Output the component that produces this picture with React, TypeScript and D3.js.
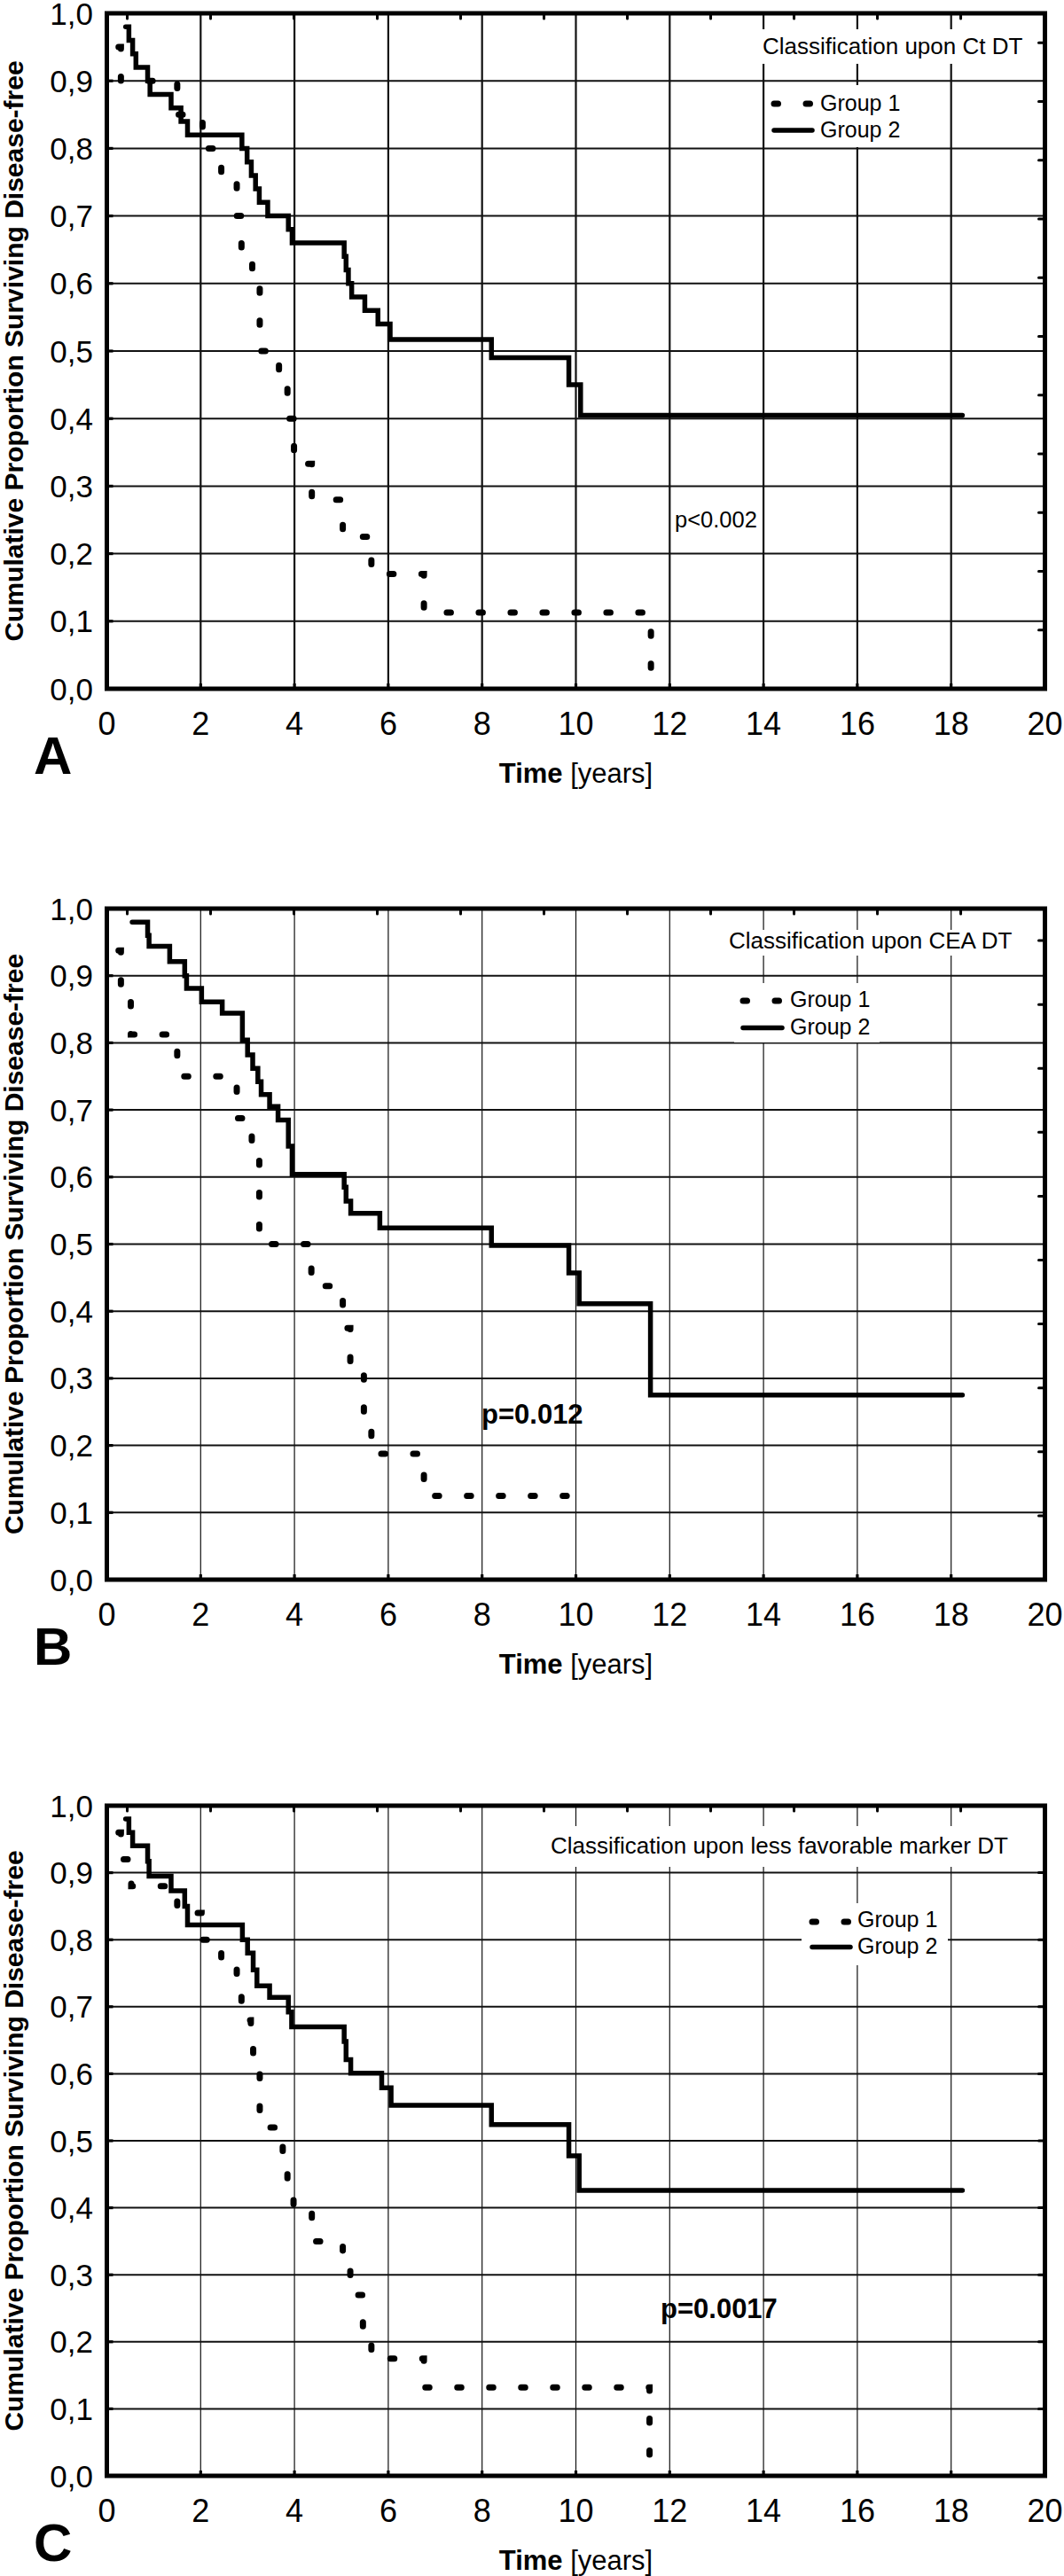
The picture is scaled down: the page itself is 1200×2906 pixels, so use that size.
import React from "react";
import * as d3 from "d3";

// ---------- data ----------
const X_TICKS = [0, 2, 4, 6, 8, 10, 12, 14, 16, 18, 20];
const Y_TICKS = [0, 0.1, 0.2, 0.3, 0.4, 0.5, 0.6, 0.7, 0.8, 0.9, 1.0];
const Y_TICK_LABELS = ["0,0", "0,1", "0,2", "0,3", "0,4", "0,5", "0,6", "0,7", "0,8", "0,9", "1,0"];
const LEGEND_LABELS = ["Group 1", "Group 2"];
const PANEL_LETTERS = ["A", "B", "C"];
const PANEL_TITLES = [
  "Classification upon Ct DT",
  "Classification upon CEA DT",
  "Classification upon less favorable marker DT",
];
const P_VALUES = ["p<0.002", "p=0.012", "p=0.0017"];
const Y_AXIS_TITLE = "Cumulative Proportion Surviving Disease-free";
const X_AXIS_TITLE_BOLD = "Time";
const X_AXIS_TITLE_UNIT = " [years]";

// secondary (unlabelled) tick marks on top border, in years
const TOP_TICK_START = 0.435;
const TOP_TICK_STEP = 1.777;
const TOP_TICK_COUNT = 11;

// Panel A
const A_G1_TIME = [0.25, 0.30, 1.50, 2.04, 2.44, 2.77, 2.87, 3.10, 3.26, 3.67, 3.85, 3.99, 4.37, 5.03, 5.64, 6.76, 11.6];
const A_G1_SURV = [0.95, 0.90, 0.85, 0.80, 0.75, 0.70, 0.65, 0.60, 0.50, 0.45, 0.40, 0.333, 0.28, 0.225, 0.17, 0.113, 0.0];
const A_G2_TIME = [0.40, 0.47, 0.55, 0.62, 0.87, 0.92, 1.37, 1.58, 1.72, 2.88, 2.99, 3.08, 3.17, 3.25, 3.43, 3.87, 3.95, 5.06, 5.10, 5.15, 5.22, 5.50, 5.78, 6.04, 8.20, 9.85, 10.10, 18.24];
const A_G2_SURV = [0.98, 0.96, 0.94, 0.92, 0.90, 0.88, 0.86, 0.84, 0.82, 0.80, 0.78, 0.76, 0.74, 0.72, 0.70, 0.68, 0.66, 0.64, 0.62, 0.60, 0.58, 0.56, 0.54, 0.517, 0.49, 0.45, 0.405, 0.405];

// Panel B
const B_G1_TIME = [0.25, 0.30, 0.51, 1.50, 2.77, 3.09, 3.25, 4.36, 5.03, 5.19, 5.48, 5.64, 6.76, 10.1];
const B_G1_SURV = [0.9375, 0.875, 0.8125, 0.75, 0.6875, 0.625, 0.50, 0.4375, 0.375, 0.3125, 0.25, 0.1875, 0.125, 0.125];
const B_G2_TIME = [0.54, 0.87, 0.90, 1.34, 1.66, 1.70, 2.02, 2.46, 2.89, 3.00, 3.11, 3.22, 3.29, 3.47, 3.65, 3.87, 3.95, 5.06, 5.10, 5.20, 5.82, 8.20, 9.85, 10.07, 11.59, 18.24];
const B_G2_SURV = [0.98, 0.96, 0.944, 0.921, 0.90, 0.881, 0.861, 0.844, 0.804, 0.782, 0.762, 0.742, 0.723, 0.705, 0.685, 0.646, 0.604, 0.585, 0.564, 0.546, 0.524, 0.498, 0.457, 0.411, 0.275, 0.275];

// Panel C
const C_G1_TIME = [0.25, 0.30, 0.52, 1.50, 2.02, 2.44, 2.77, 2.87, 3.07, 3.12, 3.26, 3.75, 3.85, 3.98, 4.37, 5.03, 5.19, 5.46, 5.64, 6.76, 11.57];
const C_G1_SURV = [0.96, 0.92, 0.88, 0.84, 0.80, 0.76, 0.72, 0.68, 0.64, 0.60, 0.52, 0.48, 0.44, 0.40, 0.35, 0.31, 0.27, 0.22, 0.175, 0.132, 0.0];
const C_G2_TIME = [0.40, 0.47, 0.55, 0.87, 0.90, 1.37, 1.66, 1.72, 2.89, 3.00, 3.12, 3.20, 3.47, 3.87, 3.94, 5.06, 5.10, 5.20, 5.86, 6.06, 8.20, 9.85, 10.07, 18.24];
const C_G2_SURV = [0.98, 0.96, 0.94, 0.917, 0.895, 0.873, 0.85, 0.822, 0.80, 0.78, 0.755, 0.731, 0.714, 0.692, 0.670, 0.648, 0.621, 0.601, 0.579, 0.553, 0.524, 0.4775, 0.426, 0.426];

// ---------- layout ----------
const WIDTH = 1200;
const HEIGHT = 2906;
const PLOT_LEFT = 120.5;
const PLOT_RIGHT = 1178.5;
const FONT = "'Liberation Sans', Arial, Helvetica, sans-serif";

const PANELS = [
  {
    top: 15, bottom: 777, vGridW: 2.2, rightTickStep: 1 / 11.5,
    g1: [A_G1_TIME, A_G1_SURV], g2: [A_G2_TIME, A_G2_SURV],
    titleX: 860, titleY: 61, titleBox: [855, 33, 312, 39],
    legBox: [864, 96, 207, 70], legTextX: 925, legY1: 124.5, legY2: 154.5,
    legSymX0: 873, legSymX1: 916, legDotY: 117, legLineY: 147,
    pX: 761, pY: 595, pBold: false, pSize: 25.5,
  },
  {
    top: 1025, bottom: 1782, vGridW: 1.2, rightTickStep: 1 / 10.5,
    g1: [B_G1_TIME, B_G1_SURV], g2: [B_G2_TIME, B_G2_SURV],
    titleX: 822, titleY: 1070, titleBox: [818, 1049, 328, 29],
    legBox: [828, 1109, 164, 67], legTextX: 891, legY1: 1136, legY2: 1166.5,
    legSymX0: 838, legSymX1: 882, legDotY: 1129, legLineY: 1159.5,
    pX: 543, pY: 1606, pBold: true, pSize: 31,
  },
  {
    top: 2037, bottom: 2793, vGridW: 1.2, rightTickStep: 0.1,
    g1: [C_G1_TIME, C_G1_SURV], g2: [C_G2_TIME, C_G2_SURV],
    titleX: 621, titleY: 2091, titleBox: [616, 2060, 526, 46],
    legBox: [904, 2147, 165, 70], legTextX: 967, legY1: 2173.5, legY2: 2203.5,
    legSymX0: 916, legSymX1: 959, legDotY: 2168, legLineY: 2196.5,
    pX: 745, pY: 2615, pBold: true, pSize: 31,
  },
];

const x = d3.scaleLinear().domain([0, 20]).range([PLOT_LEFT, PLOT_RIGHT]);

function Panel({ cfg, idx }: { cfg: any; idx: number }) {
  const y = d3.scaleLinear().domain([0, 1]).range([cfg.bottom, cfg.top]);
  const line = d3
    .line<[number, number]>()
    .x((d) => x(d[0]))
    .y((d) => y(d[1]))
    .curve(d3.curveStepAfter);
  const pts = (g: number[][]) => g[0].map((t, i) => [t, g[1][i]] as [number, number]);
  const midY = (cfg.top + cfg.bottom) / 2;
  const topTicks = d3.range(TOP_TICK_COUNT).map((k) => TOP_TICK_START + k * TOP_TICK_STEP);
  const rightTicks: number[] = [];
  for (let k = 1; k * cfg.rightTickStep < 0.999; k++) rightTicks.push(k * cfg.rightTickStep);

  return (
    <g>
      {/* gridlines */}
      {X_TICKS.filter((t) => t > 0 && t < 20).map((t) => (
        <line key={"vx" + t} x1={x(t)} x2={x(t)} y1={cfg.top} y2={cfg.bottom} stroke="#111" strokeWidth={cfg.vGridW} />
      ))}
      {Y_TICKS.filter((v) => v > 0 && v < 1).map((v) => (
        <line key={"hy" + v} x1={PLOT_LEFT} x2={PLOT_RIGHT} y1={y(v)} y2={y(v)} stroke="#111" strokeWidth={2} />
      ))}
      {/* white boxes behind title and legend */}
      <rect x={cfg.titleBox[0]} y={cfg.titleBox[1]} width={cfg.titleBox[2]} height={cfg.titleBox[3]} fill="#fff" />
      <rect x={cfg.legBox[0]} y={cfg.legBox[1]} width={cfg.legBox[2]} height={cfg.legBox[3]} fill="#fff" />
      {/* ticks */}
      {X_TICKS.filter((t) => t > 0 && t < 20).map((t) => (
        <line key={"bt" + t} x1={x(t)} x2={x(t)} y1={cfg.bottom} y2={cfg.bottom - 6} stroke="#000" strokeWidth={3.2} />
      ))}
      {Y_TICKS.filter((v) => v > 0 && v < 1).map((v) => (
        <line key={"lt" + v} x1={PLOT_LEFT} x2={PLOT_LEFT + 7} y1={y(v)} y2={y(v)} stroke="#000" strokeWidth={3.2} />
      ))}
      {topTicks.map((t, i) => (
        <line key={"tt" + i} x1={x(t)} x2={x(t)} y1={cfg.top} y2={cfg.top + 6} stroke="#000" strokeWidth={3} strokeLinecap="round" />
      ))}
      {rightTicks.map((v, i) => (
        <line key={"rt" + i} x1={PLOT_RIGHT} x2={PLOT_RIGHT - 7} y1={y(v)} y2={y(v)} stroke="#000" strokeWidth={3} strokeLinecap="round" />
      ))}
      {/* curves */}
      <path d={line(pts(cfg.g1)) || ""} fill="none" stroke="#000" strokeWidth={7} strokeDasharray="4.5 31.5" strokeLinecap="round" />
      <path d={line(pts(cfg.g2)) || ""} fill="none" stroke="#000" strokeWidth={5.5} strokeLinejoin="miter" strokeLinecap="round" />
      {/* border */}
      <rect x={PLOT_LEFT} y={cfg.top} width={PLOT_RIGHT - PLOT_LEFT} height={cfg.bottom - cfg.top} fill="none" stroke="#000" strokeWidth={5} />
      {/* axis tick labels */}
      {X_TICKS.map((t) => (
        <text key={"xl" + t} x={x(t)} y={cfg.bottom + 52} textAnchor="middle" fontSize={36} fontFamily={FONT}>{t}</text>
      ))}
      {Y_TICKS.map((v, i) => (
        <text key={"yl" + v} x={105} y={y(v) + 12.5} textAnchor="end" fontSize={35} fontFamily={FONT}>{Y_TICK_LABELS[i]}</text>
      ))}
      {/* axis titles */}
      <text transform={`translate(26,${midY}) rotate(-90)`} textAnchor="middle" fontSize={30} fontWeight="bold" fontFamily={FONT}>{Y_AXIS_TITLE}</text>
      <text x={(PLOT_LEFT + PLOT_RIGHT) / 2} y={cfg.bottom + 106} textAnchor="middle" fontSize={31} fontFamily={FONT}>
        <tspan fontWeight="bold">{X_AXIS_TITLE_BOLD}</tspan>
        <tspan>{X_AXIS_TITLE_UNIT}</tspan>
      </text>
      <text x={38} y={cfg.bottom + 96} fontSize={60} fontWeight="bold" fontFamily={FONT}>{PANEL_LETTERS[idx]}</text>
      {/* title and legend */}
      <text x={cfg.titleX} y={cfg.titleY} fontSize={26} fontFamily={FONT}>{PANEL_TITLES[idx]}</text>
      <line x1={cfg.legSymX0} x2={cfg.legSymX1} y1={cfg.legDotY} y2={cfg.legDotY} stroke="#000" strokeWidth={7} strokeDasharray="4.5 31.5" strokeLinecap="round" />
      <line x1={cfg.legSymX0} x2={cfg.legSymX1} y1={cfg.legLineY} y2={cfg.legLineY} stroke="#000" strokeWidth={5.5} strokeLinecap="round" />
      <text x={cfg.legTextX} y={cfg.legY1} fontSize={25} fontFamily={FONT}>{LEGEND_LABELS[0]}</text>
      <text x={cfg.legTextX} y={cfg.legY2} fontSize={25} fontFamily={FONT}>{LEGEND_LABELS[1]}</text>
      {/* p value */}
      <text x={cfg.pX} y={cfg.pY} fontSize={cfg.pSize} fontWeight={cfg.pBold ? "bold" : "normal"} fontFamily={FONT}>{P_VALUES[idx]}</text>
    </g>
  );
}

export default function App() {
  return (
    <div style={{ position: "absolute", left: 0, top: 0, width: WIDTH, height: HEIGHT, background: "#fff" }}>
      <svg width={WIDTH} height={HEIGHT} viewBox={`0 0 ${WIDTH} ${HEIGHT}`} style={{ display: "block" }}>
        <rect x={0} y={0} width={WIDTH} height={HEIGHT} fill="#fff" />
        {PANELS.map((cfg, i) => (
          <Panel key={i} cfg={cfg} idx={i} />
        ))}
      </svg>
    </div>
  );
}
